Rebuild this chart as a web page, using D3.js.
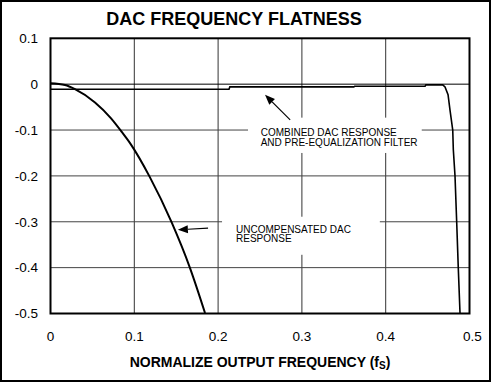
<!DOCTYPE html>
<html><head><meta charset="utf-8">
<script src="https://cdn.jsdelivr.net/npm/d3@7"></script>
<style>body{margin:0;background:#fff}svg{display:block}text{font-family:Arial,"Liberation Sans",sans-serif}</style>
</head><body>
<svg id="c" width="491" height="382"></svg>
<script>
// ---- data ----
const xTicks = [0, 0.1, 0.2, 0.3, 0.4, 0.5];
const xTickLabels = ["0", "0.1", "0.2", "0.3", "0.4", "0.5"];
const yTicks = [0.1, 0, -0.1, -0.2, -0.3, -0.4, -0.5];
const yTickLabels = ["0.1", "0", "-0.1", "-0.2", "-0.3", "-0.4", "-0.5"];
const combinedF =  [0, 0.213, 0.214, 0.362, 0.363, 0.447, 0.448, 0.468, 0.4708, 0.4744, 0.4767, 0.4800, 0.4807, 0.4827, 0.4847, 0.4866, 0.4887];
const combinedDb = [-0.011, -0.011, -0.006, -0.006, -0.0045, -0.0045, -0.0015, -0.0015, -0.006, -0.023, -0.056, -0.10, -0.143, -0.2, -0.3, -0.4, -0.5];
const uncompF =  [0, 0.0173, 0.0292, 0.0531, 0.072, 0.085, 0.0949, 0.1181, 0.1446, 0.1665, 0.1844];
const uncompDb = [0.002, -0.002, -0.011, -0.040, -0.074, -0.104, -0.1285, -0.201, -0.3015, -0.401, -0.499];
const title = "DAC FREQUENCY FLATNESS";
const combinedLabel = ["COMBINED DAC RESPONSE", "AND PRE-EQUALIZATION FILTER"];
const uncompLabel = ["UNCOMPENSATED DAC", "RESPONSE"];

const svg = d3.select("#c");
const x = d3.scaleLinear().domain([0, 0.5]).range([50.5, 469.5]);
const y = d3.scaleLinear().domain([0.1, -0.5]).range([38.3, 313.5]);

// outer border
svg.append("rect").attr("x",1).attr("y",1).attr("width",489).attr("height",380)
  .attr("fill","none").attr("stroke","#000").attr("stroke-width",2);

// title
svg.append("text").attr("x",234).attr("y",25).attr("text-anchor","middle")
  .attr("font-size",18).attr("font-weight","bold").text(title);

// gridlines
const g = svg.append("g");
g.selectAll(".vg").data(xTicks.slice(1,-1)).join("line")
  .attr("x1",d=>x(d)).attr("x2",d=>x(d)).attr("y1",y(0.1)).attr("y2",y(-0.5))
  .attr("stroke","#333").attr("stroke-width",1);
g.selectAll(".hg").data(yTicks.slice(1,-1)).join("line")
  .attr("x1",x(0)).attr("x2",x(0.5)).attr("y1",d=>y(d)).attr("y2",d=>y(d))
  .attr("stroke",d=>d===0?"#000":"#444").attr("stroke-width",1);

// white boxes behind annotations
svg.append("rect").attr("x",x(0.2357)).attr("y",y(-0.073))
  .attr("width",x(0.443)-x(0.2357)).attr("height",y(-0.15)-y(-0.073)).attr("fill","#fff");
svg.append("rect").attr("x",x(0.2047)).attr("y",y(-0.289))
  .attr("width",x(0.393)-x(0.2047)).attr("height",y(-0.372)-y(-0.289)).attr("fill","#fff");

// frame
svg.append("rect").attr("x",x(0)).attr("y",y(0.1)).attr("width",x(0.5)-x(0)).attr("height",y(-0.5)-y(0.1))
  .attr("fill","none").attr("stroke","#000").attr("stroke-width",2);

// curves
svg.append("clipPath").attr("id","pc").append("rect")
  .attr("x",x(0)).attr("y",y(0.1)).attr("width",x(0.5)-x(0)).attr("height",y(-0.5)-y(0.1));
svg.append("path").datum(combinedF.map((f,i)=>[f,combinedDb[i]]))
  .attr("d",d3.line().x(d=>x(d[0])).y(d=>y(d[1]))).attr("fill","none").attr("stroke","#000").attr("stroke-width",1.6)
  .attr("clip-path","url(#pc)");
svg.append("path").datum(uncompF.map((f,i)=>[f,uncompDb[i]]))
  .attr("d",d3.line().x(d=>x(d[0])).y(d=>y(d[1])).curve(d3.curveMonotoneX)).attr("fill","none")
  .attr("stroke","#000").attr("stroke-width",2).attr("clip-path","url(#pc)");

// axes labels
svg.selectAll(".yl").data(yTicks).join("text")
  .attr("x",38).attr("y",d=>y(d)).attr("dy","0.36em").attr("text-anchor","end")
  .attr("font-size",13.5).text((d,i)=>yTickLabels[i]);
svg.selectAll(".xl").data(xTicks).join("text")
  .attr("x",d=>x(d)+ (d===0.5?3:0)).attr("y",340.5).attr("text-anchor","middle")
  .attr("font-size",13.5).text((d,i)=>xTickLabels[i]);
const xt = svg.append("text").attr("x",260).attr("y",367).attr("text-anchor","middle")
  .attr("font-size",14).attr("font-weight","bold");
xt.append("tspan").text("NORMALIZE OUTPUT FREQUENCY (f");
xt.append("tspan").attr("font-size",10).attr("dy",1.5).text("S");
xt.append("tspan").attr("dy",-1.5).text(")");

// annotations
svg.selectAll(".cl").data(combinedLabel).join("text")
  .attr("x",x(0.2508)).attr("y",(d,i)=>y(-0.1126)+i*10.2).attr("font-size",10).text(d=>d);
svg.selectAll(".ul").data(uncompLabel).join("text")
  .attr("x",x(0.2214)).attr("y",(d,i)=>y(-0.324)+i*9.7).attr("font-size",10).text(d=>d);

function arrow(f1,d1,f2,d2){
  const x1=x(f1),y1=y(d1),x2=x(f2),y2=y(d2);
  const a=Math.atan2(y2-y1,x2-x1), L=10, W=4;
  const bx=x2-L*Math.cos(a), by=y2-L*Math.sin(a);
  svg.append("line").attr("x1",x1).attr("y1",y1).attr("x2",bx).attr("y2",by)
    .attr("stroke","#000").attr("stroke-width",1.2);
  svg.append("path").attr("d",`M${x2},${y2}L${bx+W*Math.sin(a)},${by-W*Math.cos(a)}L${bx-W*Math.sin(a)},${by+W*Math.cos(a)}Z`)
    .attr("fill","#000");
}
arrow(0.286,-0.0778,0.256,-0.0233);
arrow(0.188,-0.314,0.152,-0.3174);
</script>
</body></html>
